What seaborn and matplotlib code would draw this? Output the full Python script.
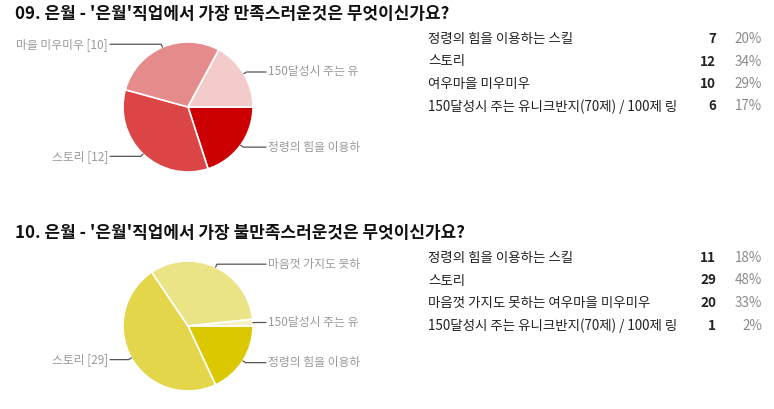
import numpy as np
import seaborn as sns
import matplotlib.pyplot as plt

sns.set_theme(style="white")
plt.rcParams['font.family'] = ['Noto Sans CJK KR', 'DejaVu Sans']

# question 09
q9_title = "09. 은월 - '은월'직업에서 가장 만족스러운것은 무엇이신가요?"
q9_labels = ["정령의 힘을 이용하는 스킬", "스토리", "여우마을 미우미우",
             "150달성시 주는 유니크반지(70제) / 100제 링"]
q9_counts = [7, 12, 10, 6]
q9_pie_labels = ["정령의 힘을 이용하", "스토리 [12]", "마을 미우미우 [10]", "150달성시 주는 유"]
q9_colors = ["#cc0000", "#dc4545", "#e58b8b", "#f3cbcb"]

# question 10
q10_title = "10. 은월 - '은월'직업에서 가장 불만족스러운것은 무엇이신가요?"
q10_labels = ["정령의 힘을 이용하는 스킬", "스토리", "마음껏 가지도 못하는 여우마을 미우미우",
              "150달성시 주는 유니크반지(70제) / 100제 링"]
q10_counts = [11, 29, 20, 1]
q10_pie_labels = ["정령의 힘을 이용하", "스토리 [29]", "마음껏 가지도 못하", "150달성시 주는 유"]
q10_colors = ["#dcc800", "#e3d64b", "#ebe487", "#f5f0c5"]

W, H = 774, 409
fig = plt.figure(figsize=(W / 100, H / 100), dpi=100)
fig.patch.set_facecolor("white")


def fx(px):
    return px / W


def fy(py):
    return 1 - py / H


def draw_block(top, title, labels, counts, pie_labels, colors):
    fig.text(fx(15), fy(top + 14), title, fontsize=12.2, fontweight="bold",
             color="#111111", va="center", ha="left")

    # pie
    cx, cy, r = 188, top + 107, 65
    ax = fig.add_axes([fx(cx - r), fy(cy + r), (2 * r) / W, (2 * r) / H])
    wedges, _ = ax.pie(counts, colors=colors, startangle=0, counterclock=False,
                       radius=1, wedgeprops=dict(edgecolor="white", linewidth=1.2))
    ax.set_xlim(-1, 1)
    ax.set_ylim(-1, 1)
    ax.set_aspect("auto")
    ax.axis("off")

    total = sum(counts)
    for w, lab in zip(wedges, pie_labels):
        mid = np.deg2rad((w.theta1 + w.theta2) / 2)
        x0, y0 = np.cos(mid), np.sin(mid)
        x1, y1 = 1.05 * x0, 1.05 * y0
        side = 1 if x0 >= 0 else -1
        xe = side * 1.2
        ax.plot([x0, x1, xe], [y0, y1, y1], color="#555555", lw=0.9, clip_on=False)
        ax.text(xe + side * 0.03, y1, lab, fontsize=8.5, color="#999999",
                ha="left" if side > 0 else "right", va="center", clip_on=False)

    # table on the right
    row_y = [top + 39, top + 61.5, top + 84, top + 106.5]
    for yy, lab, c in zip(row_y, labels, counts):
        pct = round(100 * c / total)
        fig.text(fx(428), fy(yy), lab, fontsize=9.7, color="#222222", ha="left", va="center")
        fig.text(fx(716), fy(yy), str(c), fontsize=9.7, fontweight="bold", color="#222222",
                 ha="right", va="center")
        fig.text(fx(762), fy(yy), f"{pct}%", fontsize=9.7, color="#8a8a8a",
                 ha="right", va="center")


draw_block(0, q9_title, q9_labels, q9_counts, q9_pie_labels, q9_colors)
draw_block(219, q10_title, q10_labels, q10_counts, q10_pie_labels, q10_colors)

fig.savefig("out.png", dpi=100, facecolor="white")
